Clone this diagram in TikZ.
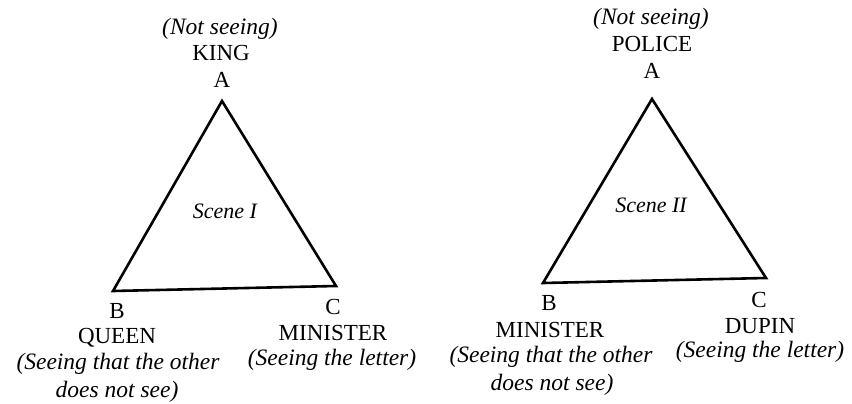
\documentclass[tikz,border=0pt]{standalone}
\usepackage{fontspec}
\setmainfont{Liberation Serif}
\begin{document}
\begin{tikzpicture}[x=1pt,y=-1pt,
  caps/.style={anchor=base,inner sep=0pt,font=\fontsize{23}{26}\selectfont},
  note/.style={anchor=base,inner sep=0pt,font=\fontsize{23.5}{26}\selectfont\itshape},
  scene/.style={anchor=base,inner sep=0pt,font=\fontsize{22}{24}\selectfont\itshape},
  tri/.style={draw,line width=2.6pt,line join=miter}]
\useasboundingbox (0,0) rectangle (852,404);
% Scene I
\coordinate (A1) at (222,101);
\coordinate (B1) at (113,291);
\coordinate (C1) at (336,286);
\draw[tri] (A1) -- (B1) -- (C1) -- cycle;
\node[note]  (n1) at (220,35) {(Not seeing)};
\node[caps]  (k1) at (221,61) {KING};
\node[caps]  (a1) at (222,88) {A};
\node[scene] (s1) at (225,218) {Scene I};
\node[caps]  (b1) at (117,318) {B};
\node[caps]  (q1) at (117,343) {QUEEN};
\node[note]  (q1a) at (118,369) {(Seeing that the other};
\node[note]  (q1b) at (117,397) {does not see)};
\node[caps]  (c1) at (333,314) {C};
\node[caps]  (m1) at (333,340) {MINISTER};
\node[note]  (m1a) at (332,365) {(Seeing the letter)};
% Scene II
\coordinate (A2) at (652,99);
\coordinate (B2) at (543,283);
\coordinate (C2) at (766,278);
\draw[tri] (A2) -- (B2) -- (C2) -- cycle;
\node[note]  (n2) at (651,25) {(Not seeing)};
\node[caps]  (p2) at (652,52) {POLICE};
\node[caps]  (a2) at (652,78) {A};
\node[scene] (s2) at (651,212) {Scene II};
\node[caps]  (b2) at (549,310) {B};
\node[caps]  (m2) at (550,337) {MINISTER};
\node[note]  (m2a) at (551,362) {(Seeing that the other};
\node[note]  (m2b) at (552,390) {does not see)};
\node[caps]  (c2) at (759,307) {C};
\node[caps]  (d2) at (760,333) {DUPIN};
\node[note]  (d2a) at (760,357) {(Seeing the letter)};
\end{tikzpicture}
\end{document}
